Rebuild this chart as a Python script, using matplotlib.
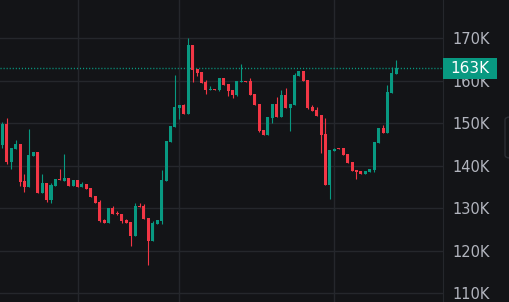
import numpy as np
import matplotlib
matplotlib.use('Agg')
import matplotlib.pyplot as plt
from matplotlib.patches import Rectangle, FancyBboxPatch

# candle data, values in thousands
opens = [144.8, 149.8, 140.8, 143.9, 145.1, 136.4, 135.0, 142.3, 143.2, 133.6,
         135.9, 131.9, 135.3, 136.8, 136.4, 137.1, 135.2, 136.6, 134.9, 135.7,
         134.7, 132.8, 131.4, 127.2, 126.5, 130.0, 128.7, 128.7, 127.2, 126.7,
         123.4, 130.5, 130.5, 127.6, 122.2, 126.2, 126.9, 136.4, 145.5, 149.1,
         153.5, 154.2, 152.1, 168.4, 162.7, 162.0, 159.6, 157.8, 158.0, 157.8,
         160.6, 159.2, 157.8, 156.6, 159.7, 159.9, 159.9, 156.8, 154.5, 148.4,
         147.2, 151.2, 154.5, 151.4, 156.6, 153.5, 154.2, 161.1, 162.2, 160.1,
         153.8, 153.1, 151.9, 147.4, 135.4, 143.4, 144.1, 144.1, 142.7, 140.8,
         138.9, 138.7, 138.0, 138.5, 138.9, 145.3, 148.8, 147.6, 157.1, 161.5]
highs = [150.2, 151.2, 144.1, 146.0, 145.1, 138.0, 148.6, 143.2, 143.2, 138.0,
         135.9, 136.0, 136.8, 139.2, 142.7, 137.1, 136.6, 136.6, 136.1, 135.7,
         134.7, 132.8, 131.9, 127.4, 130.0, 130.5, 129.2, 128.7, 127.4, 126.7,
         131.2, 131.2, 130.9, 127.6, 126.9, 127.2, 138.9, 145.8, 149.3, 161.3,
         154.2, 154.5, 170.0, 168.4, 162.7, 162.0, 160.1, 158.7, 158.0, 160.6,
         160.6, 159.2, 157.8, 159.9, 163.9, 159.9, 160.6, 156.8, 154.5, 148.4,
         151.4, 154.5, 156.1, 157.8, 158.2, 154.5, 161.8, 162.2, 162.2, 160.1,
         154.2, 153.8, 151.9, 151.2, 143.6, 144.1, 144.1, 144.1, 142.7, 140.8,
         138.9, 138.7, 138.7, 139.2, 145.5, 148.8, 149.5, 158.9, 163.2, 164.8]
lows = [144.2, 140.4, 139.2, 143.9, 135.3, 133.8, 135.0, 142.3, 133.6, 133.6,
        131.4, 131.2, 135.3, 136.6, 136.4, 135.2, 135.2, 134.9, 134.9, 134.5,
        132.6, 131.2, 126.8, 126.5, 126.5, 128.6, 128.4, 126.5, 126.5, 121.1,
        123.4, 130.2, 127.4, 116.6, 122.2, 126.2, 126.2, 136.4, 145.5, 149.1,
        150.9, 152.1, 152.1, 159.6, 161.1, 159.4, 156.8, 157.8, 157.8, 157.5,
        158.9, 156.4, 155.9, 156.4, 159.7, 159.7, 156.6, 154.2, 147.9, 147.2,
        147.2, 150.0, 151.4, 151.4, 153.5, 148.1, 154.2, 161.1, 159.9, 153.3,
        152.8, 151.6, 142.9, 135.4, 132.1, 143.4, 143.9, 142.5, 140.6, 138.7,
        136.8, 138.0, 138.0, 138.5, 138.5, 145.3, 147.6, 147.6, 157.1, 161.5]
closes = [149.8, 140.8, 144.1, 145.1, 136.2, 135.0, 142.5, 143.2, 133.6, 135.9,
          131.9, 135.4, 136.8, 136.6, 137.1, 135.2, 136.6, 134.9, 135.7, 134.5,
          132.6, 131.2, 126.9, 126.5, 130.0, 128.6, 128.6, 126.9, 126.5, 123.4,
          130.5, 130.2, 127.4, 122.2, 126.5, 127.2, 136.6, 145.8, 149.3, 153.8,
          154.2, 152.1, 168.4, 162.5, 161.8, 159.4, 157.8, 158.0, 157.8, 160.6,
          158.9, 157.5, 156.6, 159.9, 159.9, 159.7, 156.6, 154.2, 148.1, 147.2,
          151.4, 154.5, 151.4, 156.6, 153.5, 154.5, 161.3, 162.2, 159.9, 153.5,
          152.8, 151.6, 147.2, 135.4, 143.6, 143.9, 143.9, 142.5, 140.6, 138.7,
          138.5, 138.0, 138.7, 139.2, 145.5, 148.8, 147.6, 157.3, 161.8, 162.9]

y_ticks = [110, 120, 130, 140, 150, 160, 170]
x_grid = [17, 40, 75]
last_label = '163K'

bg = '#131417'
grid_c = '#25272c'
up_c = '#089981'
down_c = '#f23645'
txt_c = '#b2b5be'

fig = plt.figure(figsize=(5.09, 3.02), dpi=100, facecolor=bg)
ax = fig.add_axes([0, 0, 443 / 509, 1])
ax.set_facecolor(bg)

x = np.arange(len(opens))
for i in x:
    o, h, l, c = opens[i], highs[i], lows[i], closes[i]
    col = up_c if c >= o else down_c
    ax.vlines(i, l, h, color=col, lw=0.8, zorder=3)
    bot = min(o, c)
    hgt = max(abs(c - o), 0.25)
    ax.add_patch(Rectangle((i - 0.34, bot), 0.68, hgt, facecolor=col,
                           edgecolor='none', zorder=4))

ax.set_xlim(-0.52, 99.54)
ax.set_ylim(107.9, 178.94)

for v in y_ticks + [180]:
    ax.axhline(v, color=grid_c, lw=1, zorder=1)
for g in x_grid:
    ax.axvline(g, color=grid_c, lw=1, zorder=1)

ax.set_xticks([])
ax.yaxis.tick_right()
ax.set_yticks(y_ticks)
ax.set_yticklabels([f'{v}K' for v in y_ticks])
ax.tick_params(axis='y', length=0, pad=7, labelsize=10.5, labelcolor=txt_c)
ax.text(1.0, 180, '180K', transform=ax.get_yaxis_transform(), color=txt_c,
        fontsize=10.5, va='center', ha='left', clip_on=False)
# shift manual label to match tick pad
ax.texts[-1].set_x(1 + 10 / 443)

for s in ['top', 'left', 'bottom']:
    ax.spines[s].set_visible(False)
ax.spines['right'].set_color(grid_c)

# last price line + label
last = closes[-1]
ax.axhline(last, color=up_c, lw=1, linestyle=(0, (0.8, 1.4)), zorder=2)
ax.add_patch(Rectangle((1.0, last - 2.47), 54 / 443, 4.94,
                       transform=ax.get_yaxis_transform(), facecolor=up_c,
                       edgecolor='none', clip_on=False, zorder=5))
ax.text(1 + 27 / 443, last, last_label, transform=ax.get_yaxis_transform(),
        color='white', fontsize=11, ha='center', va='center', zorder=6,
        clip_on=False)

# small handle on the right edge
fig.patches.append(FancyBboxPatch((505 / 509, 144 / 302), 10 / 509, 41 / 302,
                                  boxstyle='round,pad=0,rounding_size=0.01',
                                  transform=fig.transFigure, facecolor=bg,
                                  edgecolor='#2a2d33', lw=1))

fig.savefig('out.png', dpi=100, facecolor=bg)
